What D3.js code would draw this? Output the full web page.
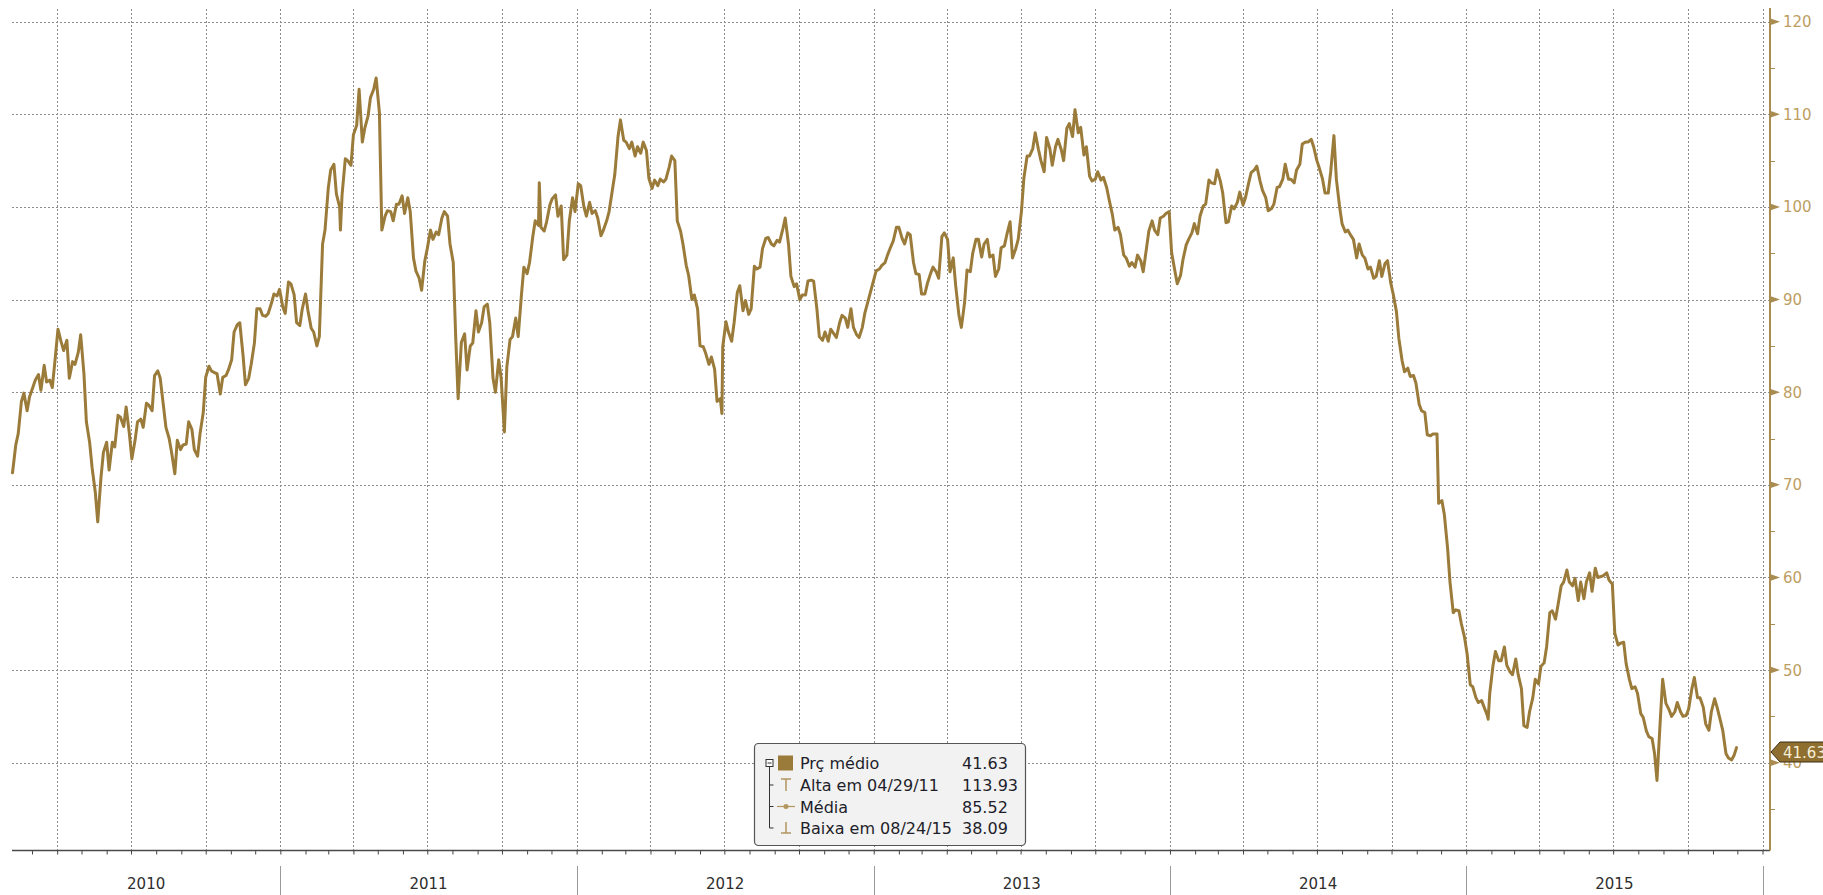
<!DOCTYPE html>
<html>
<head>
<meta charset="utf-8">
<script src="https://cdn.jsdelivr.net/npm/d3@7"></script>
<style>
  body { margin: 0; background: #fff; }
  svg { display: block; font-family: "DejaVu Sans", sans-serif; }
</style>
</head>
<body>
<div id="chart"></div>
<script>
// closes: Fridays plus a few turning points
const dates2010 = ["2010-02-05","2010-02-12","2010-02-19","2010-02-26","2010-03-05","2010-03-12","2010-03-19","2010-03-26","2010-04-02","2010-04-09","2010-04-16","2010-04-23","2010-04-30","2010-05-07","2010-05-14","2010-05-21","2010-05-28","2010-06-04","2010-06-11","2010-06-18","2010-06-25","2010-07-02","2010-07-09","2010-07-16","2010-07-23","2010-07-30","2010-08-06","2010-08-13","2010-08-20","2010-08-27","2010-09-03","2010-09-10","2010-09-17","2010-09-24","2010-10-01","2010-10-08","2010-10-15","2010-10-22","2010-10-29","2010-11-05","2010-11-12","2010-11-19","2010-11-26","2010-12-03","2010-12-10","2010-12-17","2010-12-24","2010-12-31"];
const prices2010 = [71.3,75.5,79.9,79.5,81.3,80.2,81.1,80.5,86.8,84.5,81.5,83.0,86.2,76.8,71.9,66.0,73.5,71.6,74.1,77.3,78.4,72.8,76.8,76.2,78.6,81.8,81.5,76.2,73.5,74.8,74.3,76.8,73.8,75.5,81.6,82.3,82.0,81.6,82.4,86.5,87.5,80.8,83.0,89.0,88.3,88.5,90.6,91.1];

const dates2011 = ["2011-01-07","2011-01-14","2011-01-21","2011-01-28","2011-02-04","2011-02-11","2011-02-18","2011-02-25","2011-03-04","2011-03-11","2011-03-16","2011-03-18","2011-03-25","2011-04-01","2011-04-08","2011-04-15","2011-04-22","2011-04-29","2011-05-06","2011-05-13","2011-05-20","2011-05-27","2011-06-03","2011-06-10","2011-06-17","2011-06-24","2011-07-01","2011-07-08","2011-07-15","2011-07-22","2011-07-29","2011-08-05","2011-08-08","2011-08-12","2011-08-19","2011-08-26","2011-09-02","2011-09-09","2011-09-16","2011-09-23","2011-09-30","2011-10-04","2011-10-07","2011-10-14","2011-10-21","2011-10-28","2011-11-04","2011-11-11","2011-11-16","2011-11-18","2011-11-25","2011-12-02","2011-12-09","2011-12-16","2011-12-23","2011-12-30"];
const prices2011 = [88.5,91.7,87.5,89.0,88.8,86.5,86.0,97.5,104.0,101.4,97.5,101.3,105.0,107.8,112.7,108.5,111.8,113.93,97.5,99.6,98.5,100.3,99.3,99.5,93.1,91.0,95.5,96.5,97.0,99.5,96.0,86.0,79.3,85.4,82.4,85.3,86.5,89.2,87.5,80.0,81.5,75.7,82.7,86.0,86.0,93.5,94.0,98.5,102.6,97.8,98.4,100.9,99.0,94.3,98.5,99.5];

const dates2012 = ["2012-01-06","2012-01-13","2012-01-20","2012-01-27","2012-02-03","2012-02-10","2012-02-17","2012-02-24","2012-03-02","2012-03-09","2012-03-16","2012-03-23","2012-03-30","2012-04-06","2012-04-13","2012-04-20","2012-04-27","2012-05-04","2012-05-11","2012-05-18","2012-05-25","2012-06-01","2012-06-08","2012-06-15","2012-06-22","2012-06-28","2012-06-29","2012-07-06","2012-07-13","2012-07-20","2012-07-27","2012-08-03","2012-08-10","2012-08-17","2012-08-24","2012-08-31","2012-09-07","2012-09-14","2012-09-21","2012-09-28","2012-10-05","2012-10-12","2012-10-19","2012-10-26","2012-11-02","2012-11-09","2012-11-16","2012-11-23","2012-11-30","2012-12-07","2012-12-14","2012-12-21","2012-12-28"];
const prices2012 = [102.3,99.0,99.3,98.8,97.5,99.5,103.5,109.4,107.0,107.0,106.5,107.0,103.1,102.9,103.0,103.0,105.5,98.5,96.0,92.6,90.5,85.0,84.2,83.8,79.0,77.7,84.9,86.5,87.5,91.5,89.9,89.0,93.3,95.5,96.7,95.8,96.2,98.8,92.5,91.7,90.5,92.0,92.0,86.0,86.5,86.8,85.9,88.3,87.0,87.0,85.9,88.5,90.8];

const dates2013 = ["2013-01-04","2013-01-11","2013-01-18","2013-01-25","2013-02-01","2013-02-08","2013-02-15","2013-02-22","2013-03-01","2013-03-08","2013-03-15","2013-03-22","2013-03-29","2013-04-05","2013-04-12","2013-04-19","2013-04-26","2013-05-03","2013-05-10","2013-05-17","2013-05-24","2013-05-31","2013-06-07","2013-06-14","2013-06-21","2013-06-28","2013-07-05","2013-07-12","2013-07-19","2013-07-26","2013-08-02","2013-08-09","2013-08-16","2013-08-23","2013-08-30","2013-09-06","2013-09-13","2013-09-20","2013-09-27","2013-10-04","2013-10-11","2013-10-18","2013-10-25","2013-11-01","2013-11-08","2013-11-15","2013-11-22","2013-11-29","2013-12-06","2013-12-13","2013-12-20","2013-12-27"];
const prices2013 = [93.1,93.7,94.8,96.3,97.8,96.0,97.0,92.8,90.6,91.7,93.5,92.3,97.2,93.0,91.5,87.0,93.2,95.0,96.5,96.0,94.6,92.5,95.6,97.0,94.5,96.5,103.1,105.5,108.0,105.0,107.5,104.5,107.3,105.0,109.0,110.5,108.6,106.5,102.8,103.8,103.2,100.8,97.5,97.0,94.5,94.0,94.8,93.0,97.4,97.5,98.8,99.3];

const dates2014 = ["2014-01-03","2014-01-10","2014-01-17","2014-01-24","2014-01-31","2014-02-07","2014-02-14","2014-02-21","2014-02-28","2014-03-07","2014-03-14","2014-03-21","2014-03-28","2014-04-04","2014-04-11","2014-04-18","2014-04-25","2014-05-02","2014-05-09","2014-05-16","2014-05-23","2014-05-30","2014-06-06","2014-06-13","2014-06-20","2014-06-27","2014-07-04","2014-07-11","2014-07-18","2014-07-22","2014-07-25","2014-08-01","2014-08-08","2014-08-15","2014-08-22","2014-08-29","2014-09-05","2014-09-12","2014-09-19","2014-09-26","2014-10-03","2014-10-10","2014-10-17","2014-10-24","2014-10-31","2014-11-07","2014-11-14","2014-11-21","2014-11-26","2014-11-28","2014-12-05","2014-12-12","2014-12-19","2014-12-26"];
const prices2014 = [95.1,91.7,94.3,96.5,98.2,99.0,100.3,102.6,104.0,101.5,98.4,99.8,101.6,101.0,103.7,104.4,101.8,99.6,100.3,102.2,104.6,103.0,104.0,106.8,107.0,106.5,104.2,101.5,103.8,107.7,103.0,98.2,97.5,96.5,96.0,94.5,93.5,92.5,92.5,94.2,90.6,85.8,82.2,81.7,81.0,78.0,75.4,75.5,75.5,68.0,66.8,59.5,56.5,55.0];

const dates2015 = ["2015-01-02","2015-01-09","2015-01-16","2015-01-23","2015-01-28","2015-01-30","2015-02-06","2015-02-13","2015-02-20","2015-02-27","2015-03-06","2015-03-13","2015-03-20","2015-03-27","2015-04-03","2015-04-10","2015-04-17","2015-04-24","2015-05-01","2015-05-08","2015-05-15","2015-05-22","2015-05-29","2015-06-05","2015-06-12","2015-06-19","2015-06-26","2015-07-03","2015-07-10","2015-07-17","2015-07-24","2015-07-31","2015-08-07","2015-08-14","2015-08-21","2015-08-24","2015-08-28","2015-08-31","2015-09-04","2015-09-11","2015-09-18","2015-09-25","2015-10-02","2015-10-09","2015-10-16","2015-10-23","2015-10-30","2015-11-06","2015-11-13","2015-11-20","2015-11-27","2015-11-30"];
const prices2015 = [51.8,48.2,46.5,46.0,44.7,47.5,52.0,51.0,50.5,49.5,49.5,44.0,45.5,49.0,50.4,52.5,56.4,57.0,59.5,59.5,59.9,59.5,59.5,58.5,60.0,60.2,59.7,54.0,52.9,50.7,48.0,47.5,44.9,42.8,41.0,38.09,44.5,49.0,46.4,45.0,46.5,45.0,45.8,49.2,47.0,44.2,45.5,46.0,43.5,40.5,40.8,41.63];

// Tuesday closes
const tueDates2010 = ["2010-02-09","2010-02-16","2010-02-23","2010-03-02","2010-03-09","2010-03-16","2010-03-23","2010-03-30","2010-04-06","2010-04-13","2010-04-20","2010-04-27","2010-05-04","2010-05-11","2010-05-18","2010-05-25","2010-06-01","2010-06-08","2010-06-15","2010-06-22","2010-06-29","2010-07-06","2010-07-13","2010-07-20","2010-07-27","2010-08-03","2010-08-10","2010-08-17","2010-08-24","2010-08-31","2010-09-07","2010-09-14","2010-09-21","2010-09-28","2010-10-05","2010-10-12","2010-10-19","2010-10-26","2010-11-02","2010-11-09","2010-11-16","2010-11-23","2010-11-30","2010-12-07","2010-12-14","2010-12-21","2010-12-28"];
const tuePrices2010 = [74.3,79.0,78.0,80.5,81.9,82.9,81.3,84.0,85.4,85.6,83.3,84.3,82.0,74.6,69.2,70.8,74.6,74.6,77.5,76.3,75.5,74.8,77.1,78.8,78.0,82.3,78.5,75.0,71.2,73.8,74.4,76.0,73.1,77.8,82.8,82.1,79.8,81.8,83.5,87.3,84.0,81.5,85.3,89.0,88.2,89.6,90.4];

const tueDates2011 = ["2011-01-04","2011-01-11","2011-01-18","2011-01-25","2011-02-01","2011-02-08","2011-02-15","2011-02-22","2011-03-01","2011-03-08","2011-03-15","2011-03-22","2011-03-29","2011-04-05","2011-04-12","2011-04-19","2011-04-26","2011-05-03","2011-05-10","2011-05-17","2011-05-24","2011-05-31","2011-06-07","2011-06-14","2011-06-21","2011-06-28","2011-07-05","2011-07-12","2011-07-19","2011-07-26","2011-08-02","2011-08-16","2011-08-23","2011-08-30","2011-09-06","2011-09-13","2011-09-20","2011-09-27","2011-10-11","2011-10-18","2011-10-25","2011-11-01","2011-11-08","2011-11-15","2011-11-22","2011-11-29","2011-12-06","2011-12-13","2011-12-20","2011-12-27"];
const tuePrices2011 = [89.2,91.9,90.5,87.2,90.6,86.9,85.0,96.0,102.0,104.6,100.0,105.2,104.5,108.8,107.0,109.8,112.7,110.2,99.0,99.5,100.3,101.2,101.0,94.5,92.3,94.2,97.5,97.3,98.8,99.0,94.0,86.3,85.0,88.8,87.5,89.5,81.5,83.5,85.7,88.0,90.5,92.8,96.8,98.0,97.4,100.2,101.3,100.1,94.8,101.0];

const tueDates2012 = ["2012-01-03","2012-01-10","2012-01-17","2012-01-24","2012-01-31","2012-02-07","2012-02-14","2012-02-21","2012-02-28","2012-03-06","2012-03-13","2012-03-20","2012-03-27","2012-04-03","2012-04-10","2012-04-17","2012-04-24","2012-05-01","2012-05-08","2012-05-15","2012-05-22","2012-05-29","2012-06-05","2012-06-12","2012-06-19","2012-06-26","2012-07-03","2012-07-10","2012-07-17","2012-07-24","2012-07-31","2012-08-07","2012-08-14","2012-08-21","2012-08-28","2012-09-04","2012-09-11","2012-09-18","2012-09-25","2012-10-02","2012-10-09","2012-10-16","2012-10-23","2012-10-30","2012-11-06","2012-11-13","2012-11-20","2012-11-27","2012-12-04","2012-12-11","2012-12-18"];
const tuePrices2012 = [102.5,100.0,100.5,99.6,96.9,98.5,101.8,107.6,107.2,106.3,105.5,105.8,106.1,102.0,102.3,102.7,104.3,105.0,97.4,93.7,90.0,89.0,84.9,83.0,82.5,79.3,87.6,85.5,90.8,88.8,88.4,93.6,93.5,96.6,96.0,96.4,97.6,96.0,91.4,90.0,90.5,92.1,89.0,85.6,85.5,86.3,87.5,88.0,89.0,86.2,87.0];

const tueDates2013 = ["2013-01-08","2013-01-15","2013-01-22","2013-01-29","2013-02-05","2013-02-12","2013-02-19","2013-02-26","2013-03-05","2013-03-12","2013-03-19","2013-03-26","2013-04-02","2013-04-09","2013-04-16","2013-04-23","2013-04-30","2013-05-07","2013-05-14","2013-05-21","2013-05-28","2013-06-04","2013-06-11","2013-06-18","2013-06-25","2013-07-02","2013-07-09","2013-07-16","2013-07-23","2013-07-30","2013-08-06","2013-08-13","2013-08-20","2013-08-27","2013-09-03","2013-09-10","2013-09-17","2013-09-24","2013-10-01","2013-10-08","2013-10-15","2013-10-22","2013-10-29","2013-11-05","2013-11-12","2013-11-19","2013-11-26","2013-12-03","2013-12-10","2013-12-17","2013-12-24","2013-12-31"];
const tuePrices2013 = [93.3,94.0,95.7,97.8,96.6,97.2,94.0,92.7,90.6,92.8,93.0,96.8,96.5,94.5,88.3,89.7,93.0,96.5,94.6,96.5,94.8,93.3,95.8,98.4,95.5,99.5,105.5,106.3,106.2,103.8,106.3,106.5,106.2,108.5,107.6,108.0,105.6,103.3,103.0,102.9,102.1,99.2,97.8,94.8,93.6,93.5,94.2,95.5,98.5,97.0,99.0,99.5];

const tueDates2014 = ["2014-01-07","2014-01-14","2014-01-21","2014-01-28","2014-02-04","2014-02-11","2014-02-18","2014-02-25","2014-03-04","2014-03-11","2014-03-18","2014-03-25","2014-04-01","2014-04-08","2014-04-15","2014-04-22","2014-04-29","2014-05-06","2014-05-13","2014-05-20","2014-05-27","2014-06-03","2014-06-10","2014-06-17","2014-06-24","2014-07-01","2014-07-08","2014-07-15","2014-07-29","2014-08-05","2014-08-12","2014-08-19","2014-08-26","2014-09-02","2014-09-09","2014-09-16","2014-09-23","2014-09-30","2014-10-07","2014-10-14","2014-10-21","2014-10-28","2014-11-04","2014-11-11","2014-11-18","2014-12-02","2014-12-09","2014-12-16","2014-12-23","2014-12-30"];
const tuePrices2014 = [93.1,92.6,95.9,97.2,97.1,100.1,102.9,102.5,102.8,98.3,100.1,100.5,100.2,102.6,104.0,102.8,101.0,99.8,102.1,103.0,103.0,102.6,104.6,107.0,107.3,105.0,103.0,101.5,100.0,97.3,96.9,94.5,94.8,93.3,92.3,94.2,93.9,91.8,88.7,83.4,82.6,81.8,78.7,77.8,75.3,68.3,63.2,56.2,56.4,53.5];

const tueDates2015 = ["2015-01-06","2015-01-13","2015-01-20","2015-01-27","2015-02-03","2015-02-10","2015-02-17","2015-02-24","2015-03-03","2015-03-10","2015-03-17","2015-03-24","2015-03-31","2015-04-07","2015-04-14","2015-04-21","2015-04-28","2015-05-05","2015-05-12","2015-05-19","2015-05-26","2015-06-02","2015-06-09","2015-06-16","2015-06-23","2015-06-30","2015-07-07","2015-07-14","2015-07-21","2015-07-28","2015-08-04","2015-08-11","2015-08-18","2015-09-08","2015-09-15","2015-09-22","2015-09-29","2015-10-06","2015-10-13","2015-10-20","2015-10-27","2015-11-03","2015-11-10","2015-11-17","2015-11-24"];
const tuePrices2015 = [48.4,47.0,46.7,45.1,50.5,51.0,52.5,49.8,51.2,48.0,43.8,47.0,48.5,50.8,56.2,55.5,59.1,60.8,59.1,57.5,57.7,60.5,61.0,60.1,60.5,59.3,52.7,53.0,49.0,48.2,45.3,43.4,42.6,45.7,45.5,45.5,45.1,48.0,47.0,46.0,43.5,46.9,44.6,41.0,40.3];

const yearLabels = ["2010","2011","2012","2013","2014","2015"];
const yMajorTicks = [40,50,60,70,80,90,100,110,120];
const yMinorTicks = [35,45,55,65,75,85,95,105,115];

const legendLabels = ["Prç médio","Alta em 04/29/11","Média","Baixa em 08/24/15"];
const legendValues = ["41.63","113.93","85.52","38.09"];
const lastValue = "41.63";

const lineColor = "#9b7b3a";
const axisGold = "#a88c50";
const labelGold = "#bd9e62";

const width = 1823, height = 895;
const plotLeft = 12, plotRight = 1770, plotTop = 9, plotBottom = 850.5;

const parse = d3.timeParse("%Y-%m-%d");
const series = [];
[[dates2010, prices2010],[dates2011, prices2011],[dates2012, prices2012],
 [dates2013, prices2013],[dates2014, prices2014],[dates2015, prices2015],
 [tueDates2010, tuePrices2010],[tueDates2011, tuePrices2011],[tueDates2012, tuePrices2012],
 [tueDates2013, tuePrices2013],[tueDates2014, tuePrices2014],[tueDates2015, tuePrices2015]]
    .forEach(([ds, ps]) => {
        ds.forEach((d, i) => series.push({date: parse(d), value: ps[i]}));
    });
series.sort((a, b) => a.date - b.date);

let svg = d3.select("#chart").append("svg")
    .attr("width", width)
    .attr("height", height);

let x = d3.scaleTime()
    .domain([new Date(2010, 0, 1), new Date(2016, 0, 1)])
    .range([-15.9, 1762.5]);

let y = d3.scaleLinear()
    .domain([40, 120])
    .range([762.7, 21.7]);

const crisp = v => Math.round(v) + 0.5;

// grid
const grid = svg.append("g")
    .attr("stroke", "#8c8c8c")
    .attr("stroke-width", 1)
    .attr("stroke-dasharray", "2,2")
    .attr("fill", "none");

grid.selectAll(".hgrid").data(yMajorTicks).join("line")
    .attr("x1", plotLeft).attr("x2", plotRight)
    .attr("y1", d => crisp(y(d))).attr("y2", d => crisp(y(d)));

const quarters = d3.timeMonth.every(3).range(new Date(2010, 0, 1), new Date(2016, 0, 2))
    .filter(d => x(d) >= plotLeft && x(d) <= plotRight);

grid.selectAll(".vgrid").data(quarters).join("line")
    .attr("x1", d => crisp(x(d))).attr("x2", d => crisp(x(d)))
    .attr("y1", plotTop).attr("y2", plotBottom);

// bottom axis
const months = d3.timeMonth.range(new Date(2010, 0, 1), new Date(2016, 0, 2))
    .filter(d => x(d) >= plotLeft && x(d) <= plotRight);

let xAxis = d3.axisBottom(x)
    .tickValues(months)
    .tickSize(4)
    .tickSizeOuter(0)
    .tickFormat("");

let xg = svg.append("g")
    .attr("transform", `translate(0, ${plotBottom})`)
    .call(xAxis);
xg.select(".domain").remove();
xg.selectAll(".tick line").attr("stroke", "#444").attr("stroke-width", 1);

svg.append("line")
    .attr("x1", plotLeft).attr("x2", plotRight)
    .attr("y1", plotBottom).attr("y2", plotBottom)
    .attr("stroke", "#4a4a4a").attr("stroke-width", 1.6);

// year separators and labels
const yearStarts = d3.timeYear.range(new Date(2010, 0, 1), new Date(2017, 0, 1));
svg.append("g").selectAll("line")
    .data(yearStarts.filter(d => x(d) >= plotLeft && x(d) <= plotRight))
    .join("line")
    .attr("x1", d => crisp(x(d))).attr("x2", d => crisp(x(d)))
    .attr("y1", 866).attr("y2", 895)
    .attr("stroke", "#9a9a9a").attr("stroke-width", 1);

svg.append("g").selectAll("text")
    .data(yearLabels)
    .join("text")
    .attr("x", d => {
        const a = Math.max(plotLeft, x(new Date(+d, 0, 1)));
        const b = Math.min(plotRight, x(new Date(+d + 1, 0, 1)));
        return (a + b) / 2;
    })
    .attr("y", 889)
    .attr("text-anchor", "middle")
    .attr("font-size", 15)
    .attr("fill", "#2e2e2e")
    .text(d => d);

// price line
let line = d3.line()
    .x(d => x(d.date))
    .y(d => y(d.value));

svg.append("path")
    .datum(series)
    .attr("fill", "none")
    .attr("stroke", lineColor)
    .attr("stroke-width", 3)
    .attr("stroke-linejoin", "round")
    .attr("stroke-linecap", "round")
    .attr("d", line);

// right axis
svg.append("line")
    .attr("x1", plotRight).attr("x2", plotRight)
    .attr("y1", 8).attr("y2", plotBottom)
    .attr("stroke", axisGold).attr("stroke-width", 2);

svg.append("g").selectAll("line")
    .data(yMinorTicks)
    .join("line")
    .attr("x1", plotRight).attr("x2", plotRight + 5)
    .attr("y1", d => crisp(y(d))).attr("y2", d => crisp(y(d)))
    .attr("stroke", axisGold).attr("stroke-width", 1);

svg.append("g").selectAll("path")
    .data(yMajorTicks)
    .join("path")
    .attr("d", d => {
        const yy = y(d);
        return `M${plotRight},${yy - 3.5}L${plotRight + 10},${yy}L${plotRight},${yy + 3.5}Z`;
    })
    .attr("fill", axisGold);

svg.append("g").selectAll("text")
    .data(yMajorTicks)
    .join("text")
    .attr("x", plotRight + 13)
    .attr("y", d => y(d) + 5.5)
    .attr("font-size", 15)
    .attr("fill", labelGold)
    .text(d => d);

// last value badge
const badgeY = 752;
svg.append("path")
    .attr("d", `M${plotRight + 1},${badgeY}L${plotRight + 10},${badgeY - 10}L${width + 2},${badgeY - 10}L${width + 2},${badgeY + 10}L${plotRight + 10},${badgeY + 10}Z`)
    .attr("fill", "#8e6f30")
    .attr("stroke", "#3c2f14")
    .attr("stroke-width", 1);

svg.append("text")
    .attr("x", plotRight + 13)
    .attr("y", badgeY + 5.5)
    .attr("font-size", 15)
    .attr("fill", "#f6eed8")
    .text(lastValue);

// legend
const lg = svg.append("g");
lg.append("rect")
    .attr("x", 754.5).attr("y", 743.5)
    .attr("width", 271).attr("height", 102)
    .attr("rx", 4)
    .attr("fill", "#f2f2f2")
    .attr("stroke", "#555")
    .attr("stroke-width", 1.2);

const rowY = [763, 785, 806.5, 828];
const treeX = 769.5;

lg.append("rect")
    .attr("x", treeX - 3.5).attr("y", rowY[0] - 3.5)
    .attr("width", 7).attr("height", 7)
    .attr("fill", "#fff").attr("stroke", "#333").attr("stroke-width", 1);
lg.append("line")
    .attr("x1", treeX - 2).attr("x2", treeX + 2)
    .attr("y1", rowY[0]).attr("y2", rowY[0])
    .attr("stroke", "#333");
lg.append("line")
    .attr("x1", treeX).attr("x2", treeX)
    .attr("y1", rowY[0] + 3.5).attr("y2", rowY[3])
    .attr("stroke", "#333");
lg.selectAll(".branch").data(rowY.slice(1)).join("line")
    .attr("x1", treeX).attr("x2", treeX + 4)
    .attr("y1", d => d).attr("y2", d => d)
    .attr("stroke", "#333");

// legend icons
lg.append("rect")
    .attr("x", 778).attr("y", rowY[0] - 7.5)
    .attr("width", 15).attr("height", 15)
    .attr("fill", lineColor);

const iconGold = "#b39560";
lg.append("path")
    .attr("d", `M781,${rowY[1] - 6}H791M786,${rowY[1] - 6}V${rowY[1] + 6}`)
    .attr("stroke", iconGold).attr("stroke-width", 1.5).attr("fill", "none");
lg.append("line")
    .attr("x1", 777).attr("x2", 795)
    .attr("y1", rowY[2]).attr("y2", rowY[2])
    .attr("stroke", iconGold).attr("stroke-width", 1.2);
lg.append("circle")
    .attr("cx", 786).attr("cy", rowY[2]).attr("r", 2.5)
    .attr("fill", iconGold);
lg.append("path")
    .attr("d", `M786,${rowY[3] - 6}V${rowY[3] + 5}M781,${rowY[3] + 5}H791`)
    .attr("stroke", iconGold).attr("stroke-width", 1.5).attr("fill", "none");

lg.selectAll(".lbl").data(legendLabels).join("text")
    .attr("x", 800)
    .attr("y", (d, i) => rowY[i] + 6)
    .attr("font-size", 16)
    .attr("fill", "#1e1e2a")
    .text(d => d);

lg.selectAll(".val").data(legendValues).join("text")
    .attr("x", 962)
    .attr("y", (d, i) => rowY[i] + 6)
    .attr("font-size", 16)
    .attr("fill", "#1e1e2a")
    .text(d => d);
</script>
</body>
</html>
